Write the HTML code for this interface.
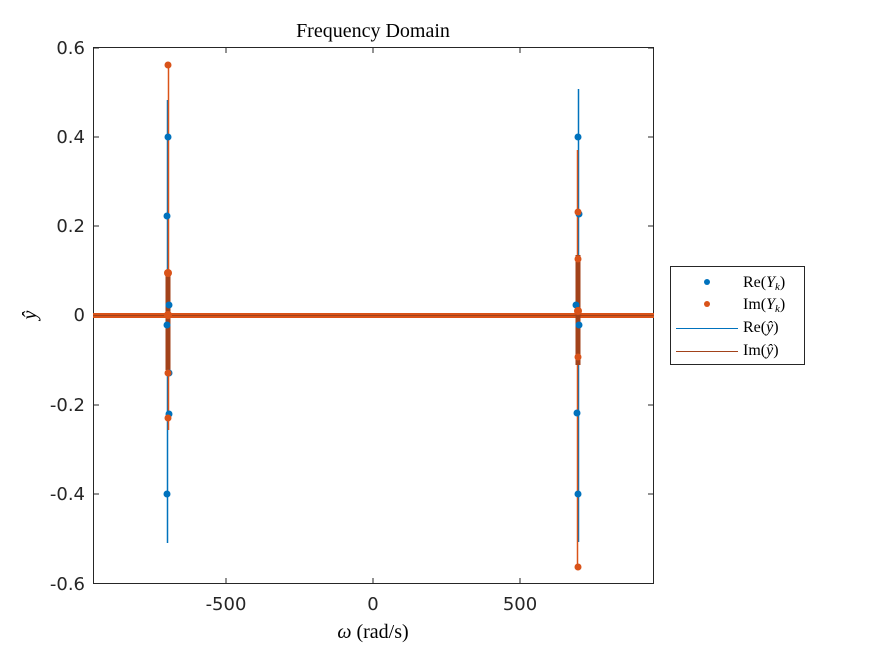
<!DOCTYPE html>
<html><head><meta charset="utf-8"><style>
body{margin:0;background:#fff;}
svg text{font-family:"DejaVu Sans","Liberation Sans",sans-serif;}
svg text.s, svg .s text{font-family:"Liberation Serif",serif;}
</style></head><body>
<svg width="874" height="655" viewBox="0 0 874 655" xmlns="http://www.w3.org/2000/svg">
<rect x="0" y="0" width="874" height="655" fill="#fff"/>
<rect x="93.5" y="47.5" width="560" height="536" fill="#fff" stroke="#262626" stroke-width="1"/>
<g stroke="#262626" stroke-width="1">
<line x1="226" y1="583" x2="226" y2="578"/><line x1="373" y1="583" x2="373" y2="578"/><line x1="520" y1="583" x2="520" y2="578"/>
<line x1="226" y1="48" x2="226" y2="53"/><line x1="373" y1="48" x2="373" y2="53"/><line x1="520" y1="48" x2="520" y2="53"/>
<line x1="94" y1="48" x2="99" y2="48"/><line x1="94" y1="137" x2="99" y2="137"/><line x1="94" y1="226" x2="99" y2="226"/><line x1="94" y1="315" x2="99" y2="315"/><line x1="94" y1="405" x2="99" y2="405"/><line x1="94" y1="494" x2="99" y2="494"/>
<line x1="653" y1="48" x2="648" y2="48"/><line x1="653" y1="137" x2="648" y2="137"/><line x1="653" y1="226" x2="648" y2="226"/><line x1="653" y1="315" x2="648" y2="315"/><line x1="653" y1="405" x2="648" y2="405"/><line x1="653" y1="494" x2="648" y2="494"/>
</g>
<g font-size="18" fill="#262626" text-anchor="end">
<text x="85" y="54">0.6</text><text x="85" y="143">0.4</text><text x="85" y="232">0.2</text><text x="85" y="321">0</text><text x="85" y="411">-0.2</text><text x="85" y="500">-0.4</text><text x="85" y="590">-0.6</text>
</g>
<g font-size="18" fill="#262626" text-anchor="middle">
<text x="226" y="610">-500</text><text x="373" y="610">0</text><text x="520" y="610">500</text>
</g>
<text class="s" x="373" y="37" font-size="20" text-anchor="middle" fill="#000">Frequency Domain</text>
<text class="s" x="373" y="638" font-size="20" text-anchor="middle" fill="#000"><tspan font-style="italic">ω</tspan> (rad/s)</text>
<text class="s" x="36" y="315" font-size="20" font-style="italic" text-anchor="middle" transform="rotate(-90 36 315)">ŷ</text>
<rect x="93" y="313" width="561" height="5" fill="#d95319"/>
<line x1="93" y1="315.5" x2="654" y2="315.5" stroke="#a2421a" stroke-width="1"/>
<!-- left spike -->
<line x1="167.5" y1="100" x2="167.5" y2="543" stroke="#0072bd" stroke-width="1.5"/>
<line x1="168.5" y1="65" x2="168.5" y2="430" stroke="#d95319" stroke-width="1.5"/>
<rect x="165.5" y="270" width="5" height="100" fill="#a2421a"/>
<g fill="#0072bd"><circle cx="168" cy="137" r="3.5"/><circle cx="167" cy="216" r="3.5"/><circle cx="169" cy="305" r="3.5"/><circle cx="167" cy="325" r="3.5"/><circle cx="169" cy="373" r="3.5"/><circle cx="169" cy="414" r="3.5"/><circle cx="167" cy="494" r="3.5"/></g>
<g fill="#d95319"><circle cx="168" cy="65" r="3.5"/><circle cx="168" cy="273" r="4"/><circle cx="168" cy="315" r="4"/><circle cx="168" cy="373" r="3.5"/><circle cx="168" cy="418" r="3.5"/></g>
<!-- right spike -->
<line x1="578.5" y1="89" x2="578.5" y2="542" stroke="#0072bd" stroke-width="1.5"/>
<line x1="577.5" y1="150" x2="577.5" y2="567" stroke="#d95319" stroke-width="1.5"/>
<rect x="575.5" y="255" width="5" height="110" fill="#a2421a"/>
<g fill="#0072bd"><circle cx="578" cy="137" r="3.5"/><circle cx="579" cy="214" r="3.5"/><circle cx="576" cy="305" r="3.5"/><circle cx="579" cy="325" r="3.5"/><circle cx="577" cy="413" r="3.5"/><circle cx="578" cy="494" r="3.5"/></g>
<g fill="#d95319"><circle cx="578" cy="212" r="3.5"/><circle cx="578" cy="259" r="3.5"/><circle cx="578" cy="311" r="4"/><circle cx="578" cy="357" r="3.5"/><circle cx="578" cy="567" r="3.5"/></g>
<!-- legend -->
<rect x="670.5" y="266.5" width="134" height="98" fill="#fff" stroke="#262626" stroke-width="1"/>
<circle cx="707" cy="282" r="3" fill="#0072bd"/>
<circle cx="707" cy="304" r="3" fill="#d95319"/>
<line x1="676" y1="328.5" x2="738" y2="328.5" stroke="#0072bd" stroke-width="1"/>
<line x1="676" y1="351.5" x2="738" y2="351.5" stroke="#a2421a" stroke-width="1"/>
<g class="s" font-size="16" fill="#000">
<text x="743" y="287">Re(<tspan font-style="italic">Y</tspan><tspan font-size="11" font-style="italic" dy="3">k</tspan><tspan dy="-3">)</tspan></text>
<text x="743" y="309">Im(<tspan font-style="italic">Y</tspan><tspan font-size="11" font-style="italic" dy="3">k</tspan><tspan dy="-3">)</tspan></text>
<text x="743" y="332">Re(<tspan font-style="italic">ŷ</tspan>)</text>
<text x="743" y="355">Im(<tspan font-style="italic">ŷ</tspan>)</text>
</g>
</svg>
</body></html>
